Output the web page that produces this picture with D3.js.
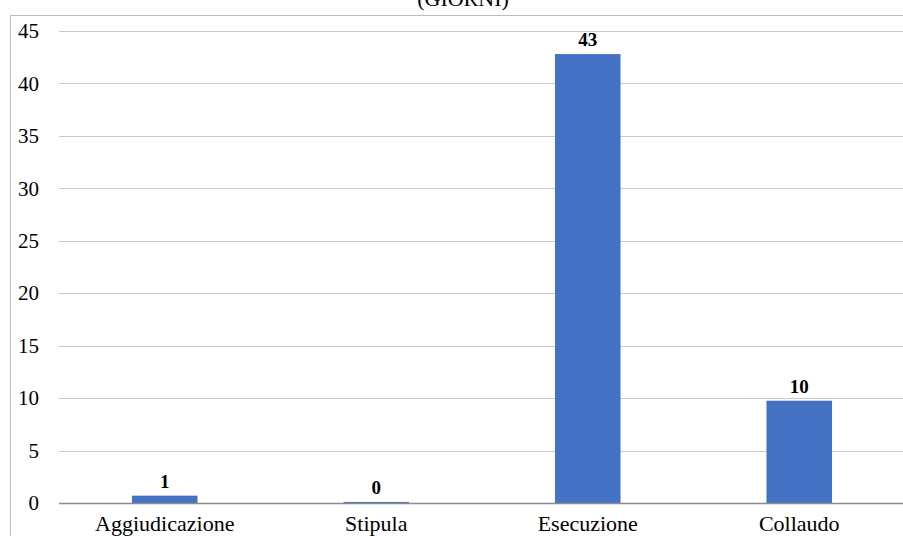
<!DOCTYPE html>
<html>
<head>
<meta charset="utf-8">
<script src="https://cdn.jsdelivr.net/npm/d3@7"></script>
<style>
  html, body { margin: 0; padding: 0; background: #fff; }
  svg { display: block; }
  svg text { font-family: "Liberation Serif", serif; }
</style>
</head>
<body>
<svg id="chart" width="903" height="536"></svg>
<script>
// Durata media delle fasi (giorni)
const categories = ["Aggiudicazione", "Stipula", "Esecuzione", "Collaudo"];
const values = [0.7, 0.1, 42.8, 9.75];
const yTicks = [0, 5, 10, 15, 20, 25, 30, 35, 40, 45];
const title = "(GIORNI)";

const W = 903, H = 536;
const margin = { left: 59, right: -2, top: 31, bottom: 33 };
const svg = d3.select("#chart");
const serif = "Liberation Serif";

// outer frame
svg.append("rect")
  .attr("x", 10.5).attr("y", 15.5)
  .attr("width", W + 10).attr("height", H + 10)
  .attr("fill", "none").attr("stroke", "#bdbdbd").attr("stroke-width", 1);

// title (mostly above the frame)
svg.append("text")
  .attr("x", 463).attr("y", 6)
  .attr("text-anchor", "middle")
  .attr("font-family", serif).style("font-size", "22px")
  .attr("fill", "#000")
  .text(title);

const x = d3.scaleBand()
  .domain(categories)
  .range([margin.left, W - margin.right])
  .paddingInner(0.69).paddingOuter(0.345);

const y = d3.scaleLinear()
  .domain([0, 45])
  .range([H - margin.bottom, margin.top]);

// gridlines
svg.append("g")
  .selectAll("line")
  .data(yTicks.filter(d => d > 0))
  .join("line")
  .attr("x1", margin.left).attr("x2", W)
  .attr("y1", d => Math.round(y(d)) + 0.5).attr("y2", d => Math.round(y(d)) + 0.5)
  .attr("stroke", "#c9c9c9").attr("stroke-width", 1);

// y axis labels
const yAxis = svg.append("g")
  .attr("transform", `translate(${margin.left},0)`)
  .call(d3.axisLeft(y).tickValues(yTicks).tickSize(0).tickPadding(20));
yAxis.attr("font-family", serif).attr("font-size", 21);
yAxis.select(".domain").remove();
yAxis.selectAll("text").attr("fill", "#000");

// bars
svg.append("g")
  .selectAll("rect")
  .data(categories)
  .join("rect")
  .attr("x", d => x(d))
  .attr("width", x.bandwidth())
  .attr("y", (d, i) => y(values[i]))
  .attr("height", (d, i) => y(0) - y(values[i]))
  .attr("fill", "#4472c4");

// value labels
const fmt = d3.format(".0f");
svg.append("g")
  .attr("font-family", serif)
  .selectAll("text")
  .data(categories)
  .join("text")
  .attr("x", d => x(d) + x.bandwidth() / 2)
  .attr("y", (d, i) => y(values[i]) - 8)
  .attr("text-anchor", "middle")
  .style("font-size", "19px").style("font-weight", "bold")
  .attr("fill", "#000")
  .text((d, i) => fmt(values[i]));

// baseline
svg.append("line")
  .attr("x1", margin.left).attr("x2", W)
  .attr("y1", Math.round(y(0)) + 0.5).attr("y2", Math.round(y(0)) + 0.5)
  .attr("stroke", "#8c8c8c").attr("stroke-width", 1.3);

// category labels
const xAxis = svg.append("g")
  .attr("transform", `translate(0,${y(0)})`)
  .call(d3.axisBottom(x).tickSize(0).tickPadding(12));
xAxis.attr("font-family", serif).attr("font-size", 22);
xAxis.select(".domain").remove();
xAxis.selectAll("text").attr("fill", "#000");
</script>
</body>
</html>
